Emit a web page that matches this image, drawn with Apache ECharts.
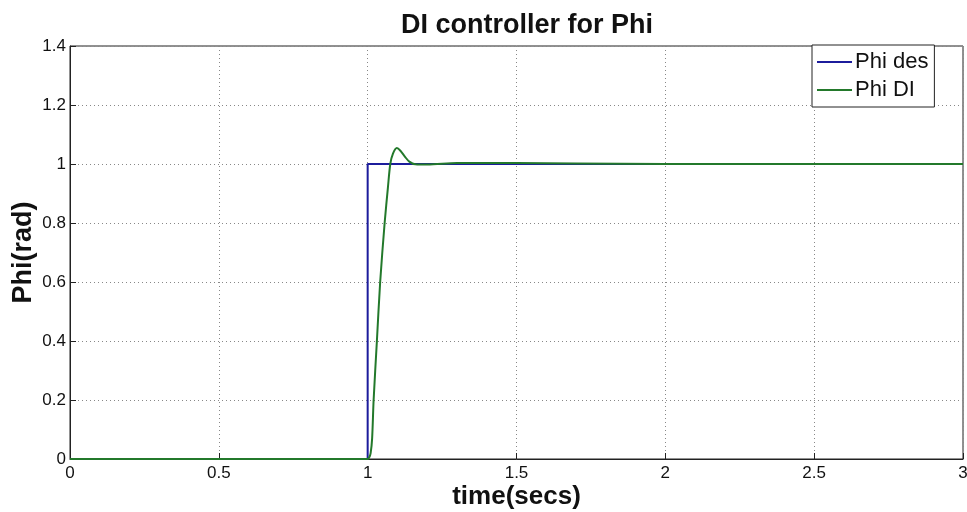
<!DOCTYPE html>
<html><head><meta charset="utf-8">
<script src="https://cdn.jsdelivr.net/npm/echarts@6/dist/echarts.min.js"></script>
<style>html,body{margin:0;padding:0;background:#fff}#c{width:967px;height:512px}</style>
</head><body><div id="c"></div>
<script>
const titleText = 'DI controller for Phi';
const xName = 'time(secs)';
const yName = 'Phi(rad)';
const seriesNames = ['Phi des', 'Phi DI'];
const xTicks = [0, 0.5, 1, 1.5, 2, 2.5, 3];
const yTicks = [0, 0.2, 0.4, 0.6, 0.8, 1, 1.2, 1.4];
const phiDesT = [0, 1, 1, 3];
const phiDesV = [0, 0, 1, 1];
const phiDiT = [0, 1.0, 1.005, 1.01, 1.015, 1.02, 1.031, 1.042, 1.057, 1.068, 1.076, 1.085, 1.098, 1.11, 1.125, 1.14, 1.16, 1.2, 1.3, 1.5, 1.7, 2, 3];
const phiDiV = [0, 0, 0.005, 0.02, 0.07, 0.2, 0.4, 0.6, 0.8, 0.92, 1.0, 1.035, 1.054, 1.045, 1.025, 1.008, 0.999, 0.998, 1.003, 1.003, 1.002, 1.0, 1.0];

const chart = echarts.init(document.getElementById('c'));
const F = 'Arial, "Liberation Sans", sans-serif';
chart.setOption({
  animation: false,
  backgroundColor: '#fff',
  title: { text: titleText, left: 522, textAlign: 'center', top: 7,
    textStyle: { fontFamily: F, fontSize: 27, fontWeight: 'bold', color: '#111' } },
  grid: { left: 70, right: 4, top: 46, bottom: 53, outerBoundsMode: 'none', containLabel: false,
    show: true, borderColor: '#222', borderWidth: 1, backgroundColor: '#fff' },
  legend: {
    orient: 'vertical', left: 812, top: 45, itemWidth: 35, itemHeight: 2, itemGap: 6,
    padding: [6, 6, 6, 5], backgroundColor: '#fff', borderColor: '#222', borderWidth: 1,
    borderRadius: 0,
    textStyle: { fontFamily: F, fontSize: 22, color: '#111', padding: [0, 0, 0, -2] },
    data: [{ name: seriesNames[0], icon: 'rect' }, { name: seriesNames[1], icon: 'rect' }]
  },
  xAxis: {
    type: 'value', min: 0, max: 3, interval: 0.5,
    name: xName, nameLocation: 'middle', nameGap: 25, nameMoveOverlap: false,
    nameTextStyle: { fontFamily: F, fontSize: 26, fontWeight: 'bold', color: '#111' },
    axisLine: { lineStyle: { color: '#222' } },
    axisTick: { inside: true, length: 6, lineStyle: { color: '#222' } },
    axisLabel: { fontFamily: F, fontSize: 17, color: '#111', margin: 6,
      formatter: v => xTicks.includes(v) ? String(v) : '' },
    splitLine: { show: true, lineStyle: { type: [1, 3], color: '#888' } }
  },
  yAxis: {
    type: 'value', min: 0, max: 1.4, interval: 0.2,
    name: yName, nameLocation: 'middle', nameGap: 33, nameMoveOverlap: false,
    nameTextStyle: { fontFamily: F, fontSize: 27, fontWeight: 'bold', color: '#111' },
    axisLine: { show: true, lineStyle: { color: '#222' } },
    axisTick: { show: true, inside: true, length: 6, lineStyle: { color: '#222' } },
    axisLabel: { fontFamily: F, fontSize: 17, color: '#111', margin: 4,
      formatter: v => { const t = yTicks.find(k => Math.abs(k - v) < 1e-9); return t === undefined ? '' : String(t); } },
    splitLine: { show: true, lineStyle: { type: [1, 3], color: '#888' } }
  },
  series: [
    { name: seriesNames[0], type: 'line', showSymbol: false, color: '#1c1c9c',
      lineStyle: { width: 2, color: '#1c1c9c' }, data: phiDesT.map((t, i) => [t, phiDesV[i]]) },
    { name: seriesNames[1], type: 'line', showSymbol: false, smooth: 0.3, color: '#23792b',
      lineStyle: { width: 2, color: '#23792b' }, data: phiDiT.map((t, i) => [t, phiDiV[i]]) }
  ]
});
</script></body></html>
